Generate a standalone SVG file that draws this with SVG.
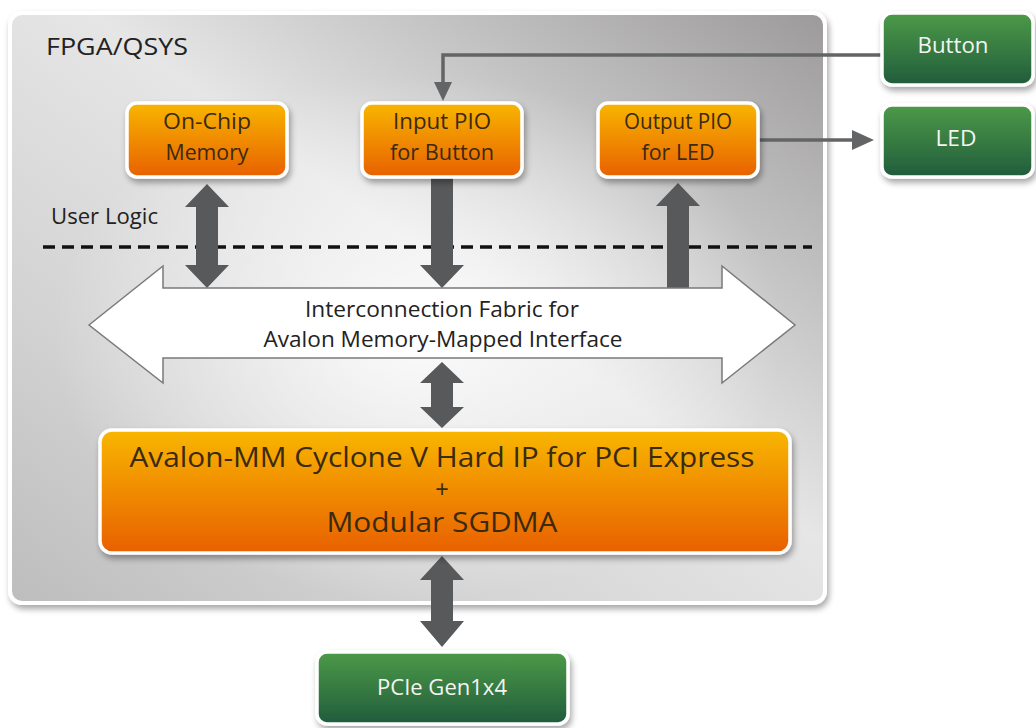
<svg xmlns="http://www.w3.org/2000/svg" width="1036" height="728" viewBox="0 0 1036 728">
<defs>
<linearGradient id="panelG" x1="1" y1="0" x2="0" y2="1">
<stop offset="0" stop-color="#9c9a9a"/>
<stop offset="0.45" stop-color="#e6e6e6"/>
<stop offset="0.75" stop-color="#d2d2d2"/>
<stop offset="1" stop-color="#bdbdbd"/>
</linearGradient>
<radialGradient id="panelHi" cx="0.5" cy="0.55" r="0.45">
<stop offset="0" stop-color="#ffffff" stop-opacity="0.85"/>
<stop offset="1" stop-color="#ffffff" stop-opacity="0"/>
</radialGradient>
<linearGradient id="orangeG" x1="0" y1="0" x2="0" y2="1">
<stop offset="0" stop-color="#f8b600"/>
<stop offset="1" stop-color="#e86000"/>
</linearGradient>
<linearGradient id="greenG" x1="0" y1="0" x2="0" y2="1">
<stop offset="0" stop-color="#4c9a48"/>
<stop offset="1" stop-color="#215c3c"/>
</linearGradient>
<filter id="sh" x="-10%" y="-10%" width="120%" height="140%">
<feGaussianBlur in="SourceAlpha" stdDeviation="3"/>
<feOffset dx="2" dy="4" result="b"/>
<feComponentTransfer><feFuncA type="linear" slope="0.35"/></feComponentTransfer>
<feMerge><feMergeNode/><feMergeNode in="SourceGraphic"/></feMerge>
</filter>
</defs>
<style>
.box{stroke:#ffffff;stroke-width:3.5}
.or{fill:url(#orangeG)}
.gr{fill:url(#greenG)}
.t{font-family:"Open Sans","Noto Sans",sans-serif;text-anchor:middle}
.dk{fill:#3b2a12}
.wt{fill:#f4f4f4}
.lbl{font-family:"Open Sans","Noto Sans",sans-serif;fill:#222222}
.fat{fill:#58595b}
.thin{fill:none;stroke:#636466;stroke-width:3.5}
</style>
<rect width="1036" height="728" fill="#ffffff"/>

<g id="panel">
<rect x="10" y="13" width="815" height="590" rx="12" fill="url(#panelG)" stroke="#ffffff" stroke-width="4" filter="url(#sh)"/>
<rect x="12" y="15" width="811" height="586" rx="11" fill="url(#panelHi)"/>
<text x="46" y="55" class="lbl" font-size="24" textLength="142" lengthAdjust="spacingAndGlyphs">FPGA/QSYS</text>
<text x="51" y="224" class="lbl" font-size="21" textLength="107" lengthAdjust="spacingAndGlyphs">User Logic</text>
<line x1="43" y1="247" x2="812" y2="247" stroke="#111111" stroke-width="3.5" stroke-dasharray="12 7"/>
</g>

<g id="connectors">
<path class="fat" d="M207,184 L229,207 L218,207 L218,265 L229,265 L207,288 L185,265 L196,265 L196,207 L185,207 Z"/>
<path class="fat" d="M431,178 L453,178 L453,265 L464,265 L442,288 L420,265 L431,265 Z"/>
<path class="fat" d="M678,183 L700,206 L689,206 L689,288 L667,288 L667,206 L656,206 Z"/>
<path class="fat" d="M442,362 L464,383 L453,383 L453,407 L464,407 L442,428 L420,407 L431,407 L431,383 L420,383 Z"/>
<path class="fat" d="M442,556 L464,580 L453,580 L453,621 L464,621 L442,647 L420,621 L431,621 L431,580 L420,580 Z"/>
<path class="thin" d="M882,55 L443,55 L443,84"/>
<path d="M434,82 L452,82 L443,101 Z" fill="#636466"/>
<line x1="758" y1="140" x2="854" y2="140" stroke="#636466" stroke-width="3.5"/>
<path d="M852,130 L874,140 L852,150 Z" fill="#636466"/>
</g>

<g id="fabric">
<path d="M89,325 L163,266 L163,288 L722,288 L722,266 L795,325 L722,383 L722,358 L163,358 L163,383 Z" fill="#ffffff" stroke="#7a7a7a" stroke-width="1.5"/>
<text x="442" y="317" class="t" font-size="21" fill="#222" textLength="274" lengthAdjust="spacingAndGlyphs">Interconnection Fabric for</text>
<text x="443" y="347" class="t" font-size="21" fill="#222" textLength="359" lengthAdjust="spacingAndGlyphs">Avalon Memory-Mapped Interface</text>
</g>

<g id="onchip">
<rect x="127" y="103" width="160" height="74" rx="10" class="box or" filter="url(#sh)"/>
<text x="207" y="129" class="t dk" font-size="21" textLength="88" lengthAdjust="spacingAndGlyphs">On-Chip</text>
<text x="207" y="160" class="t dk" font-size="21" textLength="83" lengthAdjust="spacingAndGlyphs">Memory</text>
</g>

<g id="inputpio">
<rect x="362" y="103" width="160" height="74" rx="10" class="box or" filter="url(#sh)"/>
<text x="442" y="129" class="t dk" font-size="21" textLength="98" lengthAdjust="spacingAndGlyphs">Input PIO</text>
<text x="442" y="160" class="t dk" font-size="21" textLength="104" lengthAdjust="spacingAndGlyphs">for Button</text>
</g>

<g id="outputpio">
<rect x="598" y="103" width="160" height="74" rx="10" class="box or" filter="url(#sh)"/>
<text x="678" y="129" class="t dk" font-size="21" textLength="108" lengthAdjust="spacingAndGlyphs">Output PIO</text>
<text x="678" y="160" class="t dk" font-size="21" textLength="73" lengthAdjust="spacingAndGlyphs">for LED</text>
</g>

<g id="button">
<rect x="882" y="13" width="151" height="72" rx="10" class="box gr" filter="url(#sh)"/>
<text x="953" y="53" class="t wt" font-size="21" textLength="71" lengthAdjust="spacingAndGlyphs">Button</text>
</g>

<g id="led">
<rect x="882" y="105" width="151" height="72" rx="10" class="box gr" filter="url(#sh)"/>
<text x="956" y="146" class="t wt" font-size="21" textLength="41" lengthAdjust="spacingAndGlyphs">LED</text>
</g>

<g id="sgdma">
<rect x="100" y="430" width="690" height="123" rx="12" class="box or" filter="url(#sh)"/>
<text x="442" y="467" class="t dk" font-size="28" textLength="625" lengthAdjust="spacingAndGlyphs">Avalon-MM Cyclone V Hard IP for PCI Express</text>
<text x="442" y="497" class="dk" font-family="'Liberation Sans',sans-serif" text-anchor="middle" font-size="23">+</text>
<text x="442" y="532" class="t dk" font-size="28" textLength="231" lengthAdjust="spacingAndGlyphs">Modular SGDMA</text>
</g>

<g id="pcie">
<rect x="317" y="652" width="251" height="72" rx="10" class="box gr" filter="url(#sh)"/>
<text x="442" y="695" class="t wt" font-size="21" textLength="130" lengthAdjust="spacingAndGlyphs">PCIe Gen1x4</text>
</g>
</svg>
